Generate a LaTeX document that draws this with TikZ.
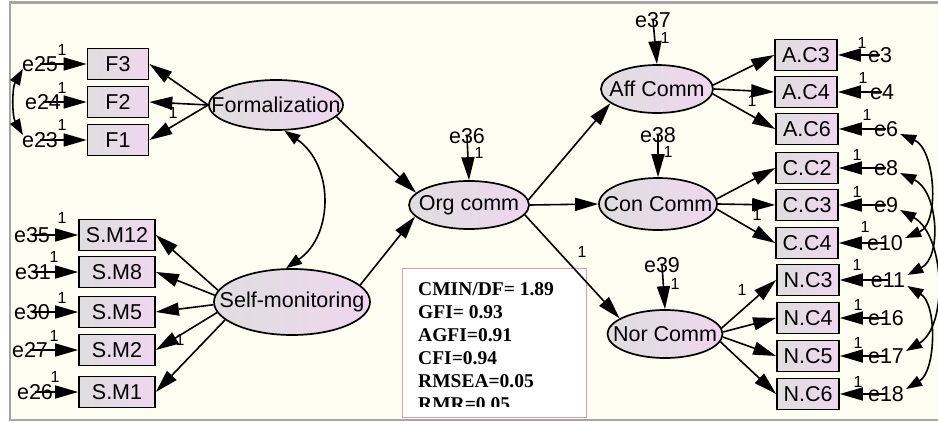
\documentclass[tikz,border=0pt]{standalone}
\usepackage{fontspec}
\setmainfont{Liberation Sans}
\newfontfamily\statsfont{Liberation Serif}
\usetikzlibrary{arrows.meta,shapes.geometric}
\definecolor{cream}{RGB}{253,253,241}
\definecolor{frameg}{RGB}{165,165,165}
\definecolor{gleft}{RGB}{222,222,222}
\definecolor{gright}{RGB}{240,214,240}
\definecolor{statsb}{RGB}{215,160,160}
\newcommand\zw[1]{\makebox[0pt]{#1}}
\tikzset{
 obs/.style={draw, line width=1.7pt, left color=gleft, right color=gright, minimum width=61pt, minimum height=31pt, inner sep=0pt, font=\fontsize{21.5}{21.5}\selectfont},
 obsw/.style={obs, minimum width=76pt},
 lat/.style={ellipse, draw, line width=1.7pt, left color=gleft, right color=gright, inner sep=0pt, font=\fontsize{21.5}{21.5}\selectfont},
 err/.style={inner sep=0pt, font=\fontsize{21.5}{21.5}\selectfont},
 one/.style={inner sep=0pt, font=\fontsize{16}{16}\selectfont},
 arr/.style={line width=1.6pt, -{Triangle[length=23pt,width=13pt]}},
 cov/.style={line width=1.6pt, {Triangle[length=16pt,width=11pt]}-{Triangle[length=16pt,width=11pt]}},
 stat/.style={anchor=west, inner sep=0pt, font=\statsfont\bfseries\fontsize{19.5}{19.5}\selectfont},
}
\begin{document}
\begin{tikzpicture}[x=1pt,y=-1pt]
\useasboundingbox (0,0) rectangle (938,423);
\fill[white] (0,0) rectangle (938,423);
\fill[cream] (10,4) rectangle (938,420);
\draw[frameg, line width=2.5pt] (9,2.5) -- (938,2.5);
\draw[frameg, line width=1.2pt] (10,3) -- (10,420) -- (938,420);

% error labels
\node[err] (e25) at (40,64) {e25};
\node[err] (e24) at (43,102) {e24};
\node[err] (e23) at (40,140) {e23};
\node[err] (e35) at (32,235) {e35};
\node[err] (e31) at (33,272) {e31};
\node[err] (e30) at (32,312) {e30};
\node[err] (e27) at (30,350) {e27};
\node[err] (e26) at (35,392) {e26};
\node[err] (e36) at (467,136) {e36};
\node[err] (e37) at (653,20) {e37};
\node[err] (e38) at (658,135) {e38};
\node[err] (e39) at (662,265) {e39};
\node[err] (e3) at (880,55) {e3};
\node[err] (e4) at (882,92) {e4};
\node[err] (e6) at (886,129) {e6};
\node[err] (e8) at (886,168) {e8};
\node[err] (e9) at (886,205) {e9};
\node[err] (e10) at (885,243) {e10};
\node[err] (e11) at (888,280) {e11};
\node[err] (e16) at (886,318) {e16};
\node[err] (e17) at (886,356) {e17};
\node[err] (e18) at (886,394) {e18};

% observed
\node[obs] (F3) at (118,64) {F3};
\node[obs] (F2) at (118,102) {F2};
\node[obs] (F1) at (118,140) {F1};
\node[obsw] (SM12) at (117,235) {S.M12};
\node[obsw] (SM8) at (117,272) {S.M8};
\node[obsw] (SM5) at (117,312) {S.M5};
\node[obsw] (SM2) at (117,350) {S.M2};
\node[obsw] (SM1) at (117,392) {S.M1};
\node[obs, minimum width=62pt] (AC3) at (806,55) {A.C3};
\node[obs, minimum width=62pt] (AC4) at (806,92) {A.C4};
\node[obs, minimum width=62pt] (AC6) at (807,129) {A.C6};
\node[obs, minimum width=62pt] (CC2) at (807,168) {C.C2};
\node[obs, minimum width=62pt] (CC3) at (807,205) {C.C3};
\node[obs, minimum width=62pt] (CC4) at (807,243) {C.C4};
\node[obs, minimum width=62pt] (NC3) at (808,280) {N.C3};
\node[obs, minimum width=62pt] (NC4) at (808,318) {N.C4};
\node[obs, minimum width=62pt] (NC5) at (808,356) {N.C5};
\node[obs, minimum width=62pt] (NC6) at (808,394) {N.C6};

% latent
\node[lat, minimum width=134pt, minimum height=50pt] (form) at (276,105) {\zw{Formalization}};
\node[lat, minimum width=156pt, minimum height=66pt] (self) at (292,302) {\zw{Self-monitoring}};
\node[lat, minimum width=120pt, minimum height=48pt] (org) at (469,205) {\zw{Org comm}};
\node[lat, minimum width=112pt, minimum height=48pt] (aff) at (657,89) {\zw{Aff Comm}};
\node[lat, minimum width=118pt, minimum height=52pt] (con) at (658,204) {\zw{Con Comm}};
\node[lat, minimum width=115pt, minimum height=48pt] (nor) at (665,334) {\zw{Nor Comm}};

% stats box
\node[draw=statsb, line width=1pt, fill=white, anchor=north west, minimum width=184pt, minimum height=149pt, inner sep=0pt] (stats) at (402,268) {};
\begin{scope}
\clip (402,268) rectangle (586,406.5);
\node[stat] (s1) at (418,289) {CMIN/DF= 1.89};
\node[stat] (s2) at (418,312) {GFI= 0.93};
\node[stat] (s3) at (418,335) {AGFI=0.91};
\node[stat] (s4) at (418,358) {CFI=0.94};
\node[stat] (s5) at (418,381) {RMSEA=0.05};
\node[stat] (s6) at (418,404) {RMR=0.05};
\end{scope}

% error arrows
\foreach \e/\b in {e25/F3,e24/F2,e23/F1,e35/SM12,e31/SM8,e30/SM5,e27/SM2,e26/SM1}
  \draw[arr] (\e.center) -- (\b.west);
\foreach \e/\b in {e3/AC3,e4/AC4,e6/AC6,e8/CC2,e9/CC3,e10/CC4,e11/NC3,e16/NC4,e17/NC5,e18/NC6}
  \draw[arr] (\e.center) -- (\b.east);
\draw[arr] (e36.center) -- (org.north);
\draw[arr] (e37.center) -- (aff.north);
\draw[arr] (e38.center) -- (con.north);
\draw[arr] (e39.center) -- (nor.north);

% loadings
\draw[arr] (form.west) -- (F3.east);
\draw[arr] (form.west) -- (F2.east);
\draw[arr] (form.west) -- (F1.east);
\draw[arr] (self.171) -- (SM12.east);
\draw[arr] (self.175) -- (SM8.east);
\draw[arr] (self.182) -- (SM5.east);
\draw[arr] (self.188) -- (SM2.east);
\draw[arr] (self.195) -- (SM1.east);
\draw[arr] (form.-11) -- (org.167);
\draw[arr] (self.14) -- (org.192);
\draw[arr] (org.5) -- (aff.197);
\draw[arr] (org.east) -- (con.west);
\draw[arr] (org.-10) -- (nor.161);
\draw[arr] (aff.4) -- (AC3.west);
\draw[arr] (aff.east) -- (AC4.west);
\draw[arr] (aff.-5) -- (AC6.west);
\draw[arr] (con.5) -- (CC2.west);
\draw[arr] (con.east) -- (CC3.west);
\draw[arr] (con.-5) -- (CC4.west);
\draw[arr] (nor.6) -- (NC3.west);
\draw[arr] (nor.2) -- (NC4.west);
\draw[arr] (nor.-3) -- (NC5.west);
\draw[arr] (nor.-8) -- (NC6.west);

% covariances
\draw[cov] ([shift={(1,5)}]e25.west) .. controls (12,88) and (12,116) .. ([shift={(1,-5)}]e23.west);
\draw[cov] (form.-72) .. controls (334,165) and (334,235) .. (self.100);
\draw[cov] ([shift={(2,5)}]e6.east) .. controls +(35,15) and +(35,-15) .. ([shift={(2,-5)}]e10.east);
\draw[cov] ([shift={(2,5)}]e8.east) .. controls +(38,18) and +(35,-18) .. ([shift={(2,-5)}]e11.east);
\draw[cov] ([shift={(2,5)}]e9.east) .. controls +(45,25) and +(42,-25) .. ([shift={(2,-5)}]e17.east);
\draw[cov] ([shift={(2,6)}]e11.east) .. controls +(30,18) and +(30,-18) .. ([shift={(2,-5)}]e18.east);

% "1" labels
\foreach \n/\x/\y in {a1/62/50,a2/62/88,a3/62/125,a4/62/218,a5/54/257,a6/62/298,a7/54/336,a8/55/377,
  b1/173/113,b2/180/340,b3/479/153,b4/665/38,b5/668/152,b6/675/284,b7/582/252,b8/752/101,b9/757/215,b10/742/290,
  c1/862/43,c2/863/78,c3/867/115,c4/857/155,c5/857/192,c6/865/227,c7/857/265,c8/858/305,c9/858/343,c10/858/382}
  \node[one] (\n) at (\x,\y) {1};
\end{tikzpicture}
\end{document}
